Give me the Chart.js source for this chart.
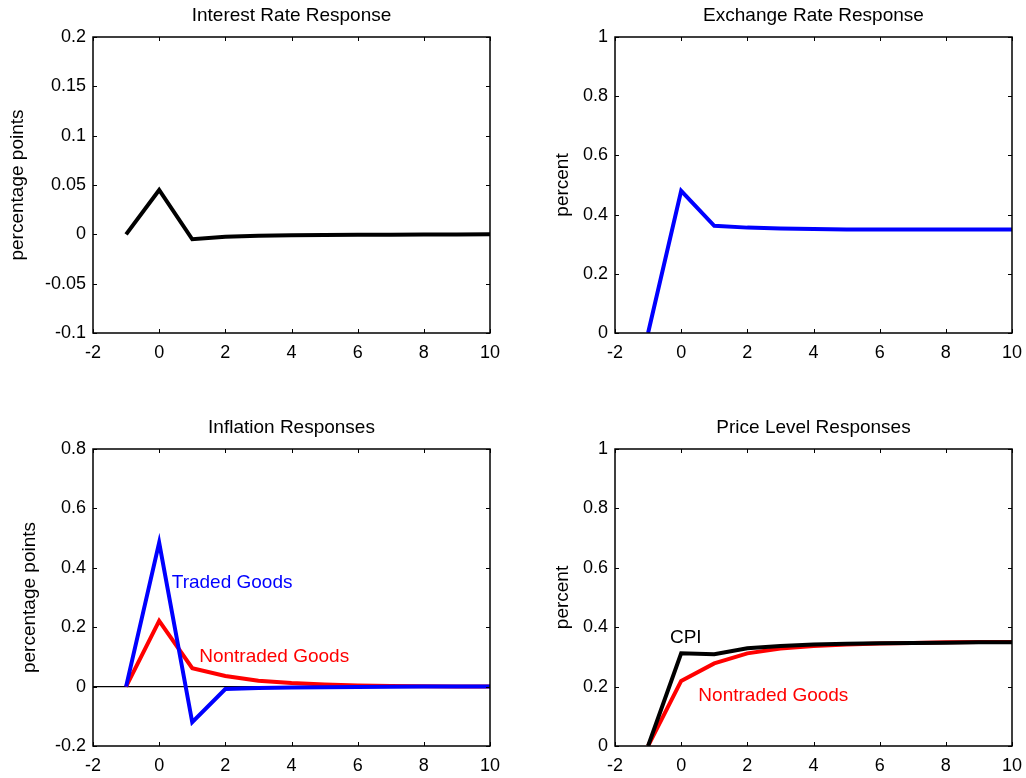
<!DOCTYPE html>
<html>
<head>
<meta charset="utf-8">
<script src="https://cdn.jsdelivr.net/npm/chart.js@4.4.0/dist/chart.umd.min.js"></script>
<style>
    html, body { margin: 0; padding: 0; background: #fff; overflow: hidden; width: 1026px; height: 778px; }
    body { position: relative; }
    canvas { position: absolute; }
</style>
</head>
<body>
<canvas id="interestChart" width="583" height="389" style="left:0px;top:0px"></canvas>
<canvas id="exchangeChart" width="547" height="389" style="left:540px;top:0px"></canvas>
<canvas id="inflationChart" width="583" height="366" style="left:0px;top:412px"></canvas>
<canvas id="priceChart" width="547" height="366" style="left:540px;top:412px"></canvas>
<script>
// periods after the shock
const periods = [-1, 0, 1, 2, 3, 4, 5, 6, 7, 8, 9, 10];

const interestRate = [0, 0.045, -0.005, -0.0025, -0.0015, -0.001, -0.0007, -0.0005, -0.0003, -0.0002, -0.0001, 0];
const exchangeRate = [0, 0.48, 0.362, 0.356, 0.353, 0.351, 0.35, 0.35, 0.35, 0.35, 0.35, 0.35];

const inflationTraded = [0, 0.485, -0.12, -0.008, -0.005, -0.003, -0.002, -0.001, -0.0005, 0, 0, 0];
const inflationNontraded = [0, 0.221, 0.062, 0.036, 0.02, 0.012, 0.007, 0.004, 0.002, 0.001, 0.0005, 0];

const priceCPI = [0, 0.312, 0.309, 0.329, 0.337, 0.342, 0.344, 0.346, 0.347, 0.348, 0.349, 0.349];
const priceNontraded = [0, 0.219, 0.278, 0.312, 0.328, 0.337, 0.342, 0.345, 0.347, 0.349, 0.35, 0.35];

const xTicks = { min: -2, max: 10, step: 2 };

const FONT = "'Liberation Sans', Arial, sans-serif";
Chart.defaults.font.family = FONT;
Chart.defaults.font.size = 18;
Chart.defaults.color = '#000';

function toPoints(values) {
    return periods.map((p, i) => ({ x: p, y: values[i] }));
}

function fmt(v) {
    return String(+Number(v).toFixed(4));
}

// box around the plot area + small inward ticks, like matlab axes
const boxPlugin = {
    id: 'box',
    afterDatasetsDraw(chart) {
        const { ctx, chartArea: a, scales } = chart;
        ctx.save();
        ctx.strokeStyle = '#000';
        ctx.lineWidth = 1;
        scales.x.ticks.forEach(t => {
            const px = Math.round(scales.x.getPixelForValue(t.value)) + 0.5;
            ctx.beginPath();
            ctx.moveTo(px, a.bottom); ctx.lineTo(px, a.bottom - 4);
            ctx.moveTo(px, a.top); ctx.lineTo(px, a.top + 4);
            ctx.stroke();
        });
        scales.y.ticks.forEach(t => {
            const py = Math.round(scales.y.getPixelForValue(t.value)) + 0.5;
            ctx.beginPath();
            ctx.moveTo(a.left, py); ctx.lineTo(a.left + 4, py);
            ctx.moveTo(a.right, py); ctx.lineTo(a.right - 4, py);
            ctx.stroke();
        });
        ctx.lineWidth = 1.5;
        ctx.strokeRect(a.left, a.top, a.right - a.left, a.bottom - a.top);
        ctx.restore();
    }
};

// text labels placed in data coordinates
const notesPlugin = {
    id: 'notes',
    afterDatasetsDraw(chart, args, opts) {
        if (!opts || !opts.items) return;
        const { ctx, scales } = chart;
        ctx.save();
        ctx.font = '19px ' + FONT;
        ctx.textAlign = 'left';
        ctx.textBaseline = 'middle';
        opts.items.forEach(n => {
            ctx.fillStyle = n.color;
            ctx.fillText(n.text, scales.x.getPixelForValue(n.x), scales.y.getPixelForValue(n.y));
        });
        ctx.restore();
    }
};

function createPanel(id, cfg) {
    const ctx = document.getElementById(id).getContext('2d');
    return new Chart(ctx, {
        type: 'line',
        data: {
            datasets: cfg.series.map(s => ({
                data: toPoints(s.values),
                borderColor: s.color,
                borderWidth: 4,
                pointRadius: 0,
                tension: 0,
                borderJoinStyle: 'miter',
                fill: false
            }))
        },
        options: {
            responsive: false,
            animation: false,
            devicePixelRatio: 1,
            layout: { padding: 0 },
            plugins: {
                legend: { display: false },
                tooltip: { enabled: false },
                title: {
                    display: true,
                    text: cfg.title,
                    font: { size: 19, weight: 'normal' },
                    padding: { top: 4, bottom: 10.2 }
                },
                notes: { items: cfg.notes || [] }
            },
            scales: {
                x: {
                    type: 'linear',
                    min: xTicks.min,
                    max: xTicks.max,
                    afterFit: s => { s.height = cfg.xAxisHeight; },
                    ticks: { stepSize: xTicks.step, padding: 9, maxRotation: 0, callback: fmt },
                    grid: { drawOnChartArea: false, drawTicks: false },
                    border: { display: false }
                },
                y: {
                    min: cfg.yMin,
                    max: cfg.yMax,
                    afterFit: s => { s.width = cfg.yAxisWidth; },
                    ticks: { stepSize: cfg.yStep, padding: 7, callback: fmt },
                    grid: {
                        drawTicks: false,
                        drawOnChartArea: !!cfg.zeroLine,
                        color: c => (c.tick && c.tick.value === 0) ? '#000' : 'rgba(0,0,0,0)',
                        lineWidth: 1.2
                    },
                    border: { display: false },
                    title: {
                        display: true,
                        text: cfg.yLabel,
                        font: { size: 19 },
                        padding: { top: cfg.yTitlePad, bottom: 0 }
                    }
                },
                // empty right axis so the plot sits centred under the title
                yRight: {
                    position: 'right',
                    display: true,
                    afterFit: s => { s.width = cfg.yAxisWidth; },
                    ticks: { display: false },
                    grid: { display: false },
                    border: { display: false }
                }
            }
        },
        plugins: [boxPlugin, notesPlugin]
    });
}

createPanel('interestChart', {
    title: 'Interest Rate Response',
    yLabel: 'percentage points',
    yMin: -0.1, yMax: 0.2, yStep: 0.05,
    zeroLine: true,
    yAxisWidth: 93, xAxisHeight: 56, yTitlePad: 6.6,
    series: [{ values: interestRate, color: '#000000' }]
});

createPanel('exchangeChart', {
    title: 'Exchange Rate Response',
    yLabel: 'percent',
    yMin: 0, yMax: 1, yStep: 0.2,
    yAxisWidth: 75, xAxisHeight: 56, yTitlePad: 11.6,
    series: [{ values: exchangeRate, color: '#0000FF' }]
});

createPanel('inflationChart', {
    title: 'Inflation Responses',
    yLabel: 'percentage points',
    yMin: -0.2, yMax: 0.8, yStep: 0.2,
    zeroLine: true,
    yAxisWidth: 93, xAxisHeight: 32, yTitlePad: 18,
    series: [
        { values: inflationTraded, color: '#0000FF' },
        { values: inflationNontraded, color: '#FF0000' }
    ],
    notes: [
        { text: 'Traded Goods', x: 0.38, y: 0.35, color: '#0000FF' },
        { text: 'Nontraded Goods', x: 1.21, y: 0.10, color: '#FF0000' }
    ]
});

createPanel('priceChart', {
    title: 'Price Level Responses',
    yLabel: 'percent',
    yMin: 0, yMax: 1, yStep: 0.2,
    yAxisWidth: 75, xAxisHeight: 32, yTitlePad: 11.6,
    series: [
        { values: priceCPI, color: '#000000' },
        { values: priceNontraded, color: '#FF0000' }
    ],
    notes: [
        { text: 'CPI', x: -0.34, y: 0.364, color: '#000000' },
        { text: 'Nontraded Goods', x: 0.52, y: 0.168, color: '#FF0000' }
    ]
});
</script>
</body>
</html>
